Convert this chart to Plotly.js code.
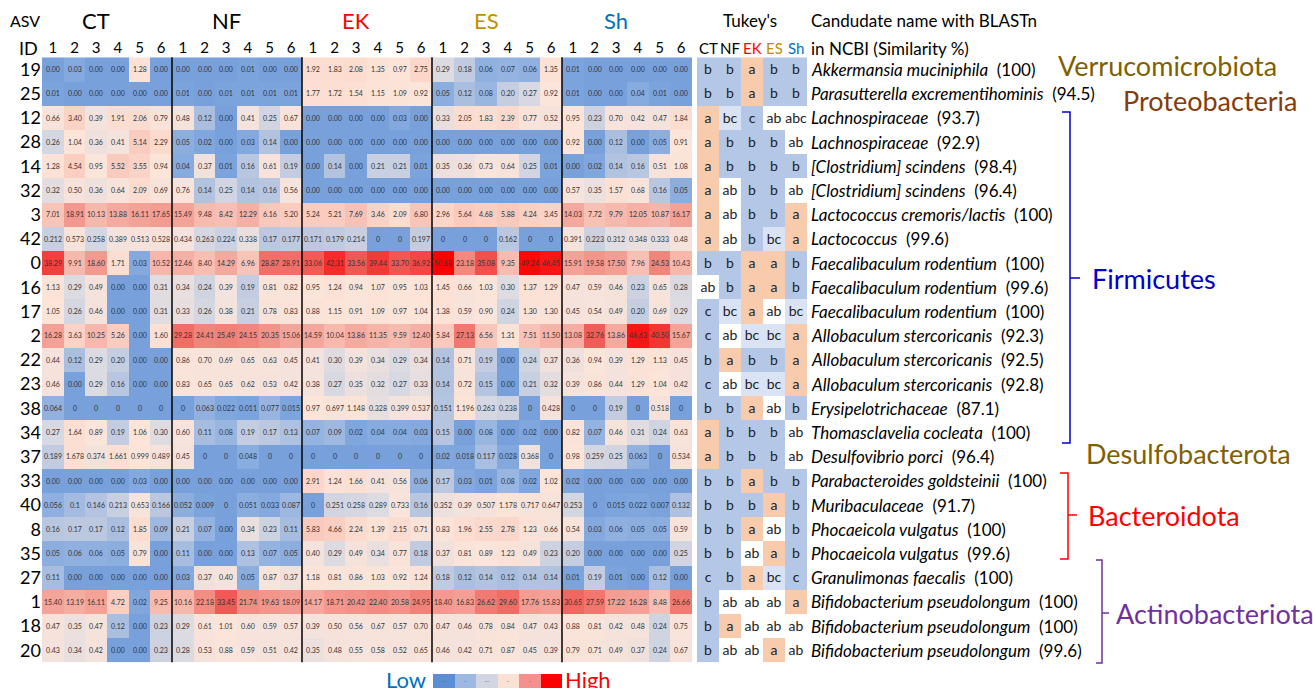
<!DOCTYPE html>
<html><head><meta charset="utf-8">
<script src="https://cdn.plot.ly/plotly-3.0.1.min.js"></script>
<style>html,body{margin:0;padding:0;background:#fff;}#chart{width:1313px;height:688px;}</style>
</head><body><div id="chart"></div>
<script>
// ---------------- DATA ----------------
const asvIds = ['19','25','12','28','14','32','3','42','0','16','17','2','22','23','38','34','37','33','40','8','35','27','1','18','20'];
const groups = ['CT','NF','EK','ES','Sh'];
const sampleLabels = ['1','2','3','4','5','6'];
const generalFormatIds = ['42','38','37','40'];

const ctVals = [
 [0.00,0.03,0.00,0.00,1.28,0.00],[0.01,0,0,0,0,0],[0.66,3.40,0.39,1.91,2.06,0.79],[0.26,1.04,0.36,0.41,5.14,2.29],
 [1.28,4.54,0.95,5.52,3.55,0.94],[0.32,0.50,0.36,0.64,2.09,0.69],[7.01,18.91,10.13,13.88,16.11,17.65],[0.212,0.573,0.258,0.389,0.513,0.528],
 [38.29,9.91,18.60,1.71,0.03,10.52],[1.13,0.29,0.49,0,0,0.31],[1.05,0.26,0.46,0,0,0.31],[16.28,3.63,10.25,5.26,0,1.60],
 [0.44,0.12,0.29,0.20,0,0],[0.46,0,0.29,0.16,0,0],[0.064,0,0,0,0,0],[0.27,1.64,0.89,0.19,1.06,0.30],
 [0.189,1.678,0.374,1.661,0.999,0.489],[0,0,0,0,0.03,0],[0.056,0.1,0.146,0.213,0.653,0.166],[0.16,0.17,0.17,0.12,1.85,0.09],
 [0.05,0.06,0.06,0.05,0.79,0],[0.11,0,0,0,0,0],[15.40,13.19,16.11,4.72,0.02,9.25],[0.47,0.35,0.47,0.12,0,0.23],[0.43,0.34,0.42,0,0,0.23]];
const nfVals = [
 [0,0,0,0.01,0,0],[0.01,0,0.01,0.01,0.01,0.01],[0.48,0.12,0,0.41,0.25,0.67],[0.05,0.02,0,0.03,0.14,0],
 [0.04,0.37,0.01,0.16,0.61,0.19],[0.76,0.14,0.25,0.14,0.16,0.56],[15.49,9.48,8.42,12.29,6.16,5.20],[0.434,0.263,0.224,0.338,0.17,0.177],
 [12.46,8.40,14.29,6.96,28.87,28.91],[0.34,0.24,0.39,0.19,0.81,0.82],[0.33,0.26,0.38,0.21,0.78,0.83],[29.28,24.41,25.49,24.15,20.35,15.06],
 [0.86,0.70,0.69,0.65,0.63,0.45],[0.83,0.65,0.65,0.62,0.53,0.42],[0,0.063,0.022,0.011,0.077,0.015],[0.60,0.11,0.08,0.19,0.17,0.13],
 [0.45,0,0,0.048,0,0],[0,0,0,0,0,0],[0.052,0.009,0,0.051,0.033,0.087],[0.21,0.07,0,0.34,0.23,0.11],
 [0.11,0,0,0.13,0.07,0.05],[0.03,0.37,0.40,0.05,0.87,0.37],[10.16,22.18,33.45,21.74,19.63,18.09],[0.29,0.61,1.01,0.60,0.59,0.57],[0.28,0.53,0.88,0.59,0.51,0.42]];
const ekVals = [
 [1.92,1.83,2.08,1.35,0.97,2.75],[1.77,1.72,1.54,1.15,1.09,0.92],[0,0,0,0,0.03,0],[0,0,0,0,0,0],
 [0,0.14,0,0.21,0.21,0.01],[0,0,0,0,0,0],[5.24,5.21,7.69,3.46,2.09,6.80],[0.171,0.179,0.214,0,0,0.197],
 [33.06,42.31,33.56,39.44,33.70,36.92],[0.95,1.24,0.94,1.07,0.95,1.03],[0.88,1.15,0.91,1.09,0.97,1.04],[14.59,10.04,13.86,11.35,9.59,12.40],
 [0.41,0.30,0.39,0.34,0.29,0.34],[0.38,0.27,0.35,0.32,0.27,0.33],[0.97,0.697,1.148,0.328,0.399,0.537],[0.07,0.09,0.02,0.04,0.04,0.03],
 [0,0,0,0,0,0],[2.91,1.24,1.66,0.41,0.56,0.06],[0,0.251,0.258,0.289,0.733,0.16],[5.83,4.66,2.24,1.39,2.15,0.71],
 [0.40,0.29,0.49,0.34,0.77,0.18],[1.18,0.81,0.86,1.03,0.92,1.24],[14.17,18.71,20.42,22.40,20.58,24.95],[0.39,0.50,0.56,0.67,0.57,0.70],[0.35,0.48,0.55,0.58,0.52,0.65]];
const esVals = [
 [0.29,0.18,0.06,0.07,0.06,1.35],[0.05,0.12,0.08,0.20,0.27,0.92],[0.33,2.05,1.83,2.39,0.77,0.52],[0,0,0,0,0,0],
 [0.35,0.36,0.73,0.64,0.25,0.01],[0,0,0,0,0,0],[2.96,5.64,4.68,5.88,4.24,3.45],[0,0,0,0.162,0,0],
 [50.68,23.18,35.08,9.35,49.24,46.45],[1.45,0.66,1.03,0.30,1.37,1.29],[1.38,0.59,0.90,0.24,1.30,1.30],[5.84,27.13,6.56,1.31,7.51,11.50],
 [0.14,0.71,0.19,0,0.24,0.37],[0.14,0.72,0.15,0,0.21,0.32],[0.151,1.196,0.263,0.238,0,0.428],[0.15,0,0.08,0,0.02,0],
 [0.02,0.018,0.117,0.028,0.368,0],[0.17,0.03,0.01,0.08,0.02,1.02],[0.352,0.39,0.507,1.178,0.717,0.647],[0.83,1.96,2.55,2.78,1.23,0.66],
 [0.37,0.81,0.89,1.23,0.49,0.23],[0.18,0.12,0.14,0.12,0.14,0.14],[18.40,16.83,26.62,29.60,17.76,15.83],[0.47,0.46,0.78,0.84,0.47,0.43],[0.46,0.42,0.71,0.87,0.45,0.39]];
const shVals = [
 [0.01,0,0,0,0,0],[0.01,0,0,0.04,0.01,0],[0.95,0.23,0.70,0.42,0.47,1.84],[0.92,0,0.12,0,0.05,0.91],
 [0,0.02,0.14,0.16,0.51,1.08],[0.57,0.35,1.57,0.68,0.16,0.05],[14.03,7.72,9.79,12.05,10.87,16.17],[0.391,0.223,0.312,0.348,0.333,0.48],
 [15.91,19.58,17.50,7.96,24.53,10.43],[0.47,0.59,0.46,0.23,0.65,0.28],[0.45,0.54,0.49,0.20,0.69,0.29],[13.08,32.76,13.86,46.63,40.50,15.67],
 [0.36,0.94,0.39,1.29,1.13,0.45],[0.39,0.86,0.44,1.29,1.04,0.42],[0,0,0.19,0,0.518,0],[0.82,0.07,0.46,0.31,0.24,0.63],
 [0.98,0.259,0.25,0.063,0,0.534],[0.02,0,0,0,0,0],[0.253,0,0.015,0.022,0.007,0.132],[0.54,0.03,0.06,0.05,0.05,0.59],
 [0.20,0,0,0,0,0.25],[0.01,0.19,0.01,0,0.12,0],[30.65,27.59,17.22,16.28,8.48,26.66],[0.88,0.81,0.42,0.48,0.24,0.75],[0.79,0.71,0.49,0.37,0.24,0.67]];

const tukeyLetters = [
 'b b a b b','b b a b b','a bc c ab abc','a b b b ab','a b b b b','a ab b b ab','a ab b b a','a ab b bc a',
 'b b a a b','ab b a a b','c bc a ab bc','c ab bc bc a','b a b b a','c ab bc bc a','b b a ab b','a b b b ab',
 'a b b b ab','b b a b b','b b b a b','b b a ab b','b b ab a b','c b a bc c','b ab ab ab a','b a ab ab ab','b ab ab a ab'];

const taxonNames = ['Akkermansia muciniphila','Parasutterella excrementihominis','Lachnospiraceae','Lachnospiraceae','[Clostridium] scindens','[Clostridium] scindens',
 'Lactococcus cremoris/lactis','Lactococcus','Faecalibaculum rodentium','Faecalibaculum rodentium','Faecalibaculum rodentium','Allobaculum stercoricanis',
 'Allobaculum stercoricanis','Allobaculum stercoricanis','Erysipelotrichaceae','Thomasclavelia cocleata','Desulfovibrio porci','Parabacteroides goldsteinii',
 'Muribaculaceae','Phocaeicola vulgatus','Phocaeicola vulgatus','Granulimonas faecalis','Bifidobacterium pseudolongum','Bifidobacterium pseudolongum','Bifidobacterium pseudolongum'];
const similarity = ['100','94.5','93.7','92.9','98.4','96.4','100','99.6','100','99.6','100','92.3','92.5','92.8','87.1','100','96.4','100','91.7','100','99.6','100','100','100','99.6'];

const phyla = ['Verrucomicrobiota','Proteobacteria','Firmicutes','Desulfobacterota','Bacteroidota','Actinobacteriota'];

// ---------------- BUILD ----------------
const W = 1313, H = 688;
const px = x => x / W, py = y => 1 - y / H;
const FONT = 'Lato, "Open Sans", sans-serif';
const groupColors = ['#000000','#000000','#ff0000','#bf8f00','#0070c0'];
const allGroups = [ctVals, nfVals, ekVals, esVals, shVals];

const z = [], txt = [];
asvIds.forEach((id, r) => {
  const row = [].concat(...allGroups.map(g => g[r]));
  z.push(row);
  const general = generalFormatIds.includes(id);
  txt.push(row.map(v => general ? String(v) : v.toFixed(2)));
});
const zmax = Math.max(...z.flat());
const stops = [[0,'#78a1db'],[0.04,'#86abdf'],[0.1,'#a3bbe0'],[0.18,'#c0cae0'],[0.28,'#d9dae2'],[0.38,'#f4e2dc'],[1.0,'#fce4d8'],
  [3,'#fbd5c8'],[8,'#f8c0b4'],[15,'#f4a59b'],[25,'#f08379'],[35,'#f0514d'],[zmax,'#ff0000']];
const colorscale = stops.map(s => [s[0] / zmax, s[1]]);

const xIdx = Array.from({length: 30}, (_, i) => i);
const yIdx = asvIds.map((_, i) => i);

const letterLevel = {a: 1, ab: 0.5, abc: 0.5, b: 0, c: 0, bc: 0.25};
const tz = tukeyLetters.map(s => s.split(' ').map(l => letterLevel[l]));
const tt = tukeyLetters.map(s => s.split(' '));

const yTop = 57.3, yBot = 662.3;
const traces = [
  {type:'heatmap', x:xIdx, y:yIdx, z:z, text:txt, texttemplate:'%{text}', textfont:{size:7, color:'#333', family:FONT},
   colorscale:colorscale, zmin:0, zmax:zmax, showscale:false, hoverinfo:'skip', xaxis:'x', yaxis:'y'},
  {type:'heatmap', x:[0,1,2,3,4], y:yIdx, z:tz, text:tt, texttemplate:'%{text}', textfont:{size:14, color:'#222', family:FONT},
   colorscale:[[0,'#b4c7e7'],[0.25,'#dae3f3'],[0.5,'#ffffff'],[0.75,'#fbe5d6'],[1,'#f8cbad']], zmin:0, zmax:1,
   showscale:false, hoverinfo:'skip', xaxis:'x2', yaxis:'y'},
  {type:'heatmap', x:[0,1,2,3,4,5], y:[0], z:[[0,1,2,3,4,5]], text:[['--','-','--','-','-','--']], texttemplate:'%{text}',
   textfont:{size:6, color:'#555'}, colorscale:[[0,'#5b8ed6'],[0.2,'#9db8e3'],[0.4,'#d2d6e2'],[0.6,'#fbe0d4'],[0.8,'#f4918d'],[1,'#ff0000']],
   showscale:false, hoverinfo:'skip', xaxis:'x3', yaxis:'y3'}
];

const annotations = [];
const ann = (o) => annotations.push(Object.assign({showarrow:false, font:{family:FONT, size:16, color:'#000'}}, o));
ann({text:'ASV', xref:'paper', yref:'paper', x:px(25), y:py(21), xanchor:'center', yanchor:'middle', font:{family:FONT,size:16,color:'#000'}});
ann({text:'ID', xref:'paper', yref:'paper', x:px(40), y:py(48), xanchor:'right', yanchor:'middle', font:{family:FONT,size:18,color:'#000'}});
groups.forEach((g, i) => ann({text:g, xref:'x', yref:'paper', x:i*6+2, y:py(21), xanchor:'center', yanchor:'middle', font:{family:FONT,size:22,color:groupColors[i]}}));
groups.forEach((g, i) => ann({text:g, xref:'x2', yref:'paper', x:i, y:py(48), xanchor:'center', yanchor:'middle', font:{family:FONT,size:15,color:groupColors[i]}}));
ann({text:"Tukey's", xref:'paper', yref:'paper', x:px(750), y:py(21), xanchor:'center', yanchor:'middle', font:{family:FONT,size:17,color:'#000'}});
ann({text:'Candudate name with BLASTn', xref:'paper', yref:'paper', x:px(809), y:py(21), xanchor:'left', yanchor:'middle', font:{family:FONT,size:17,color:'#000'}});
ann({text:'in NCBI (Similarity %)', xref:'paper', yref:'paper', x:px(809), y:py(48), xanchor:'left', yanchor:'middle', font:{family:FONT,size:17,color:'#000'}});
taxonNames.forEach((n, i) => ann({text:'<i>' + n + '</i>\u00a0 (' + similarity[i] + ')', xref:'paper', yref:'y', x:px(809), y:i,
  xanchor:'left', yanchor:'middle', font:{family:FONT,size:17,color:'#000'}}));
const phylaPos = [[1056,65,'#7f6000'],[1121,100,'#843c0c'],[1090,278,'#0000cc'],[1084,454,'#7f6000'],[1086,515,'#ff0000'],[1114,613,'#7030a0']];
phyla.forEach((p, i) => ann({text:p, xref:'paper', yref:'paper', x:px(phylaPos[i][0]), y:py(phylaPos[i][1]), xanchor:'left', yanchor:'middle',
  font:{family:FONT,size:27,color:phylaPos[i][2]}}));
ann({text:'Low', xref:'paper', yref:'paper', x:px(428), y:py(679), xanchor:'right', yanchor:'middle', font:{family:FONT,size:22,color:'#0070c0'}});
ann({text:'High', xref:'paper', yref:'paper', x:px(563), y:py(679), xanchor:'left', yanchor:'middle', font:{family:FONT,size:22,color:'#ff0000'}});

const shapes = [];
[5.5, 11.5, 17.5, 23.5].forEach(x => shapes.push({type:'line', xref:'x', yref:'paper', x0:x, x1:x, y0:py(yBot), y1:py(yTop), line:{color:'#000', width:1.5}}));
const bracket = (x, xt, y0, y1, ym, xm, color) => {
  shapes.push({type:'path', xref:'paper', yref:'paper',
    path:`M ${px(xt)} ${py(y0)} L ${px(x)} ${py(y0)} L ${px(x)} ${py(y1)} L ${px(xt)} ${py(y1)} M ${px(x)} ${py(ym)} L ${px(xm)} ${py(ym)}`,
    line:{color:color, width:1.5}});
};
bracket(1070, 1062, 112, 443, 278, 1080, '#0000cc');
bracket(1068, 1060, 473, 559, 515, 1077, '#ff0000');
bracket(1102, 1096, 560, 663, 613, 1109, '#7030a0');

const layout = {
  width:W, height:H, margin:{l:0, r:0, t:0, b:0}, paper_bgcolor:'#fff', plot_bgcolor:'#fff', showlegend:false,
  font:{family:FONT},
  xaxis:{domain:[px(42), px(692)], range:[-0.5, 29.5], side:'top', tickvals:xIdx, ticktext:xIdx.map(i => sampleLabels[i % 6]),
    tickfont:{size:15, color:'#000', family:FONT}, ticks:'', showgrid:false, zeroline:false, showline:false, anchor:'y', fixedrange:true},
  yaxis:{domain:[py(yBot), py(yTop)], range:[24.5, -0.5], tickvals:yIdx, ticktext:asvIds, tickfont:{size:18, color:'#000', family:FONT},
    ticks:'', showgrid:false, zeroline:false, showline:false, anchor:'x', fixedrange:true},
  xaxis2:{domain:[px(697), px(807)], range:[-0.5, 4.5], showticklabels:false, ticks:'', showgrid:false, zeroline:false, anchor:'y'},
  xaxis3:{domain:[px(433), px(562)], range:[-0.5, 5.5], showticklabels:false, ticks:'', showgrid:false, zeroline:false, anchor:'y3'},
  yaxis3:{domain:[0, 1 - 674 / H], range:[-0.5, 0.5], showticklabels:false, ticks:'', showgrid:false, zeroline:false, anchor:'x3'},
  annotations:annotations, shapes:shapes
};
Plotly.newPlot('chart', traces, layout, {displayModeBar:false, staticPlot:true});
</script></body></html>
